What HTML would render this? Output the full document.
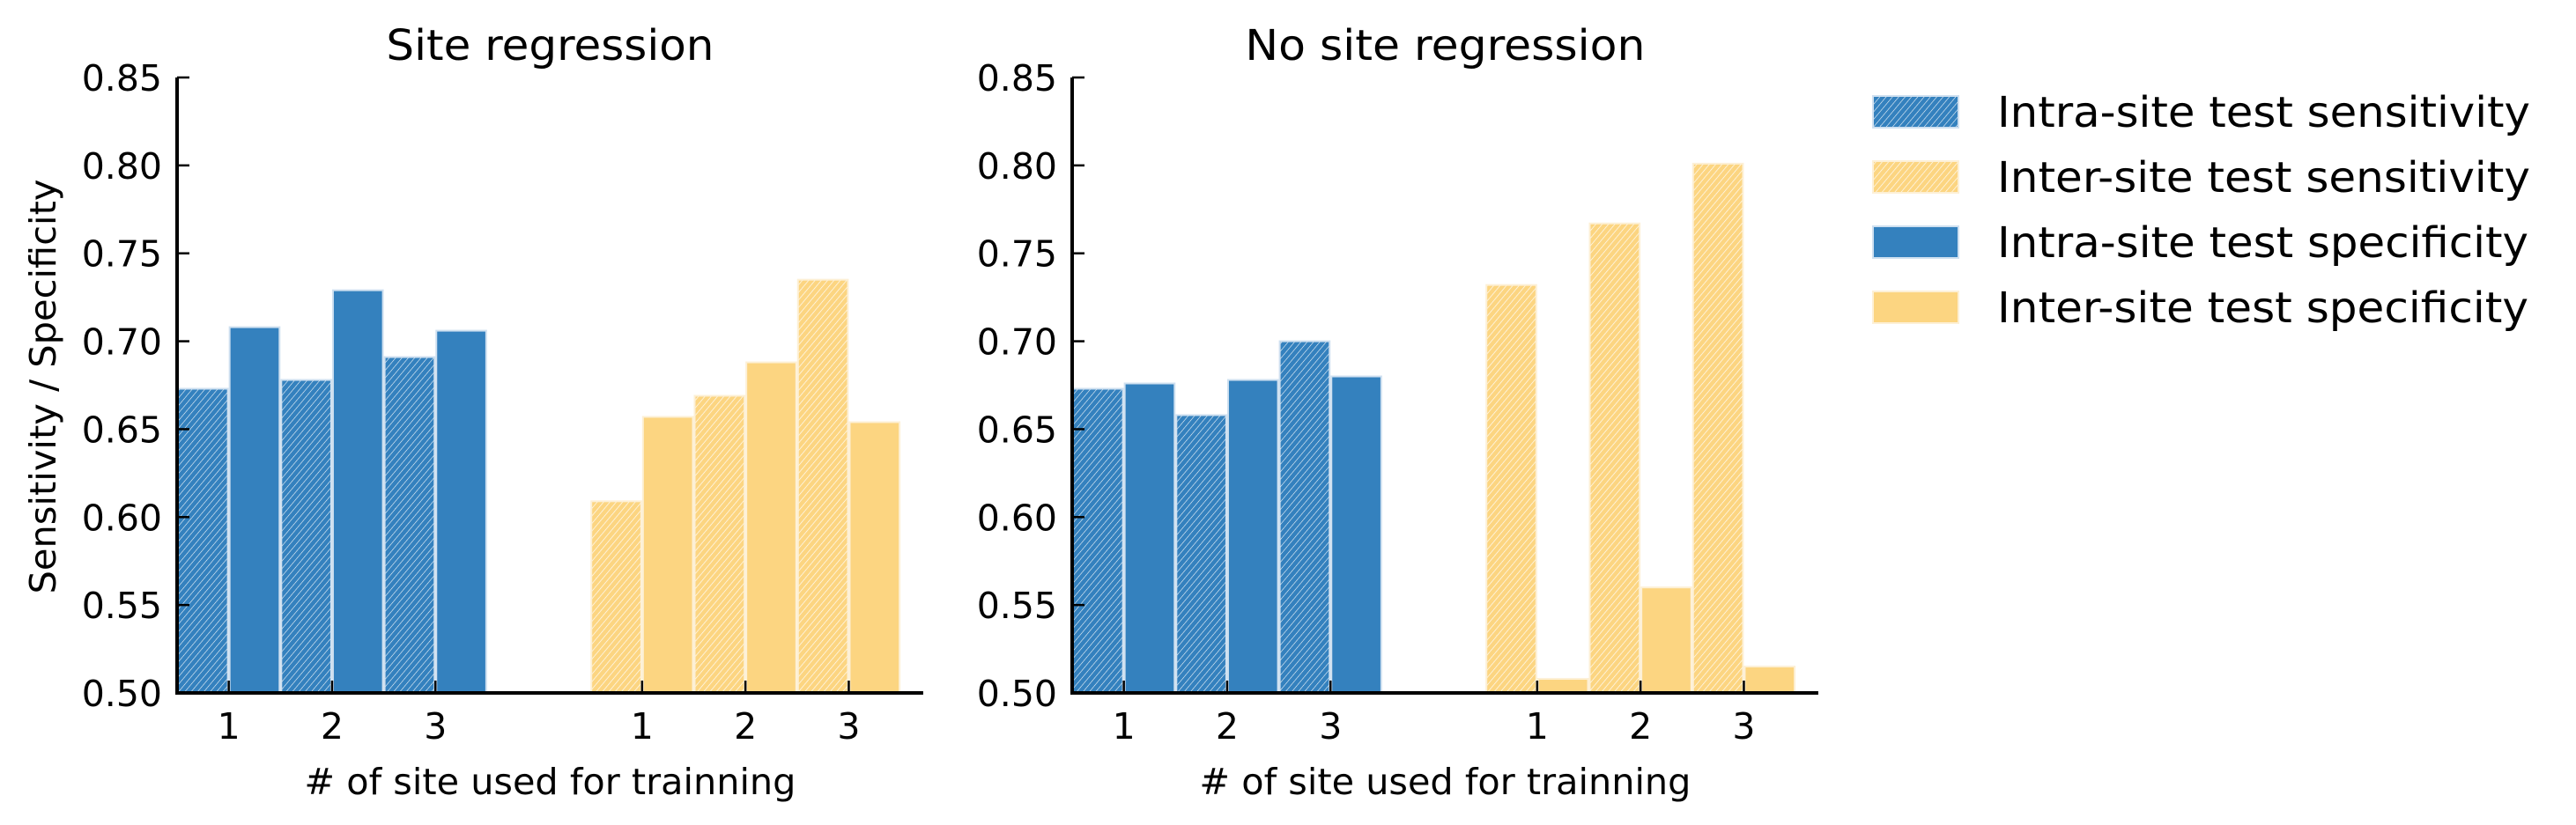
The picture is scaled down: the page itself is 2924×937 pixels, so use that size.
<!DOCTYPE html>
<html><head><meta charset="utf-8"><style>
html,body{margin:0;padding:0;background:#fff;}
svg{display:block;font-family:"DejaVu Sans","Liberation Sans",sans-serif;}
</style></head><body>
<svg id="chart" width="2924" height="937" viewBox="0 0 2924 937" xmlns="http://www.w3.org/2000/svg">
<defs>
<pattern id="hb" patternUnits="userSpaceOnUse" width="5.5" height="5.5" patternTransform="rotate(40)">
<rect width="5.5" height="5.5" fill="#3481be"/><line x1="0" y1="0" x2="0" y2="5.5" stroke="#fff" stroke-width="1.1"/></pattern>
<pattern id="hy" patternUnits="userSpaceOnUse" width="5.5" height="5.5" patternTransform="rotate(40)">
<rect width="5.5" height="5.5" fill="#fcd581"/><line x1="0" y1="0" x2="0" y2="5.5" stroke="#fff" stroke-width="1.3"/></pattern>
</defs>
<g id="p1"></g>
<g id="p2"></g>
<text x="49" y="439" font-size="41" text-anchor="middle" transform="rotate(-90 49 439)" dy="14" textLength="471" lengthAdjust="spacingAndGlyphs">Sensitivity / Specificity</text>
<g id="legend"></g>
</svg>
<script>
const categories = [1, 2, 3];
const yTicks = [0.50, 0.55, 0.60, 0.65, 0.70, 0.75, 0.80, 0.85];
const siteIntraSens = [0.673, 0.678, 0.691];
const siteIntraSpec = [0.708, 0.729, 0.706];
const siteInterSens = [0.609, 0.669, 0.735];
const siteInterSpec = [0.657, 0.688, 0.654];
const noSiteIntraSens = [0.673, 0.658, 0.700];
const noSiteIntraSpec = [0.676, 0.678, 0.680];
const noSiteInterSens = [0.732, 0.767, 0.801];
const noSiteInterSpec = [0.508, 0.560, 0.515];
const legendLabels = ["Intra-site test sensitivity","Inter-site test sensitivity","Intra-site test specificity","Inter-site test specificity"];

const NS="http://www.w3.org/2000/svg";
function mk(parent, tag, attrs){const e=document.createElementNS(NS,tag);for(const k in attrs)e.setAttribute(k,attrs[k]);parent.appendChild(e);return e;}
const Y0=787, Y1=88, YMIN=0.5, YMAX=0.85;
function yS(v){return Y0-(v-YMIN)/(YMAX-YMIN)*(Y0-Y1);}
const UNIT=117.3;
function drawPanel(g, left, title, titleLen, iSens, iSpec, eSens, eSpec){
  const xS = x => left + (x-0.5)*UNIT;
  const right = xS(7.72);
  const series=[[iSens,"url(#hb)","#cfe0f0",0,"intra-sens"],[iSpec,"#3481be","#cfe0f0",1,"intra-spec"],[eSens,"url(#hy)","#fdf0d6",4,"inter-sens"],[eSpec,"#fcd581","#fdf0d6",5,"inter-spec"]];
  series.forEach(s=>{
    s[0].forEach((v,i)=>{
      const base = categories[i] + (s[3]>=4 ? 4 : 0);
      const x0 = (s[3]%2===0) ? xS(base-0.5) : xS(base);
      const r=mk(g,"rect",{x:x0+1,y:yS(v),width:UNIT*0.5-2,height:Y0-yS(v),fill:s[1],stroke:s[2],"stroke-width":2});
      
      
    });
  });
  let a=mk(g,"line",{x1:left,y1:Y1,x2:left,y2:Y0+2,stroke:"#000","stroke-width":4});
  
  
  a=mk(g,"line",{x1:left-2,y1:Y0,x2:right,y2:Y0,stroke:"#000","stroke-width":4});
  
  
  yTicks.forEach(t=>{
    mk(g,"line",{x1:left,y1:yS(t),x2:left+14,y2:yS(t),stroke:"#000","stroke-width":2.5});
    const tx=mk(g,"text",{x:left-17,y:yS(t)+15,"font-size":41,"text-anchor":"end"});
    tx.textContent=t.toFixed(2);
    
    
  });
  [0,4].forEach(off=>categories.forEach(c=>{
    const x=xS(c+off);
    mk(g,"line",{x1:x,y1:Y0,x2:x,y2:Y0-14,stroke:"#000","stroke-width":2.5});
    const tx=mk(g,"text",{x:x,y:839,"font-size":41,"text-anchor":"middle"});
    tx.textContent=c;
    
    
  }));
  const mid=(left+right)/2;
  const tt=mk(g,"text",{x:mid,y:68,"font-size":48,"text-anchor":"middle",textLength:titleLen,lengthAdjust:"spacingAndGlyphs"});
  tt.textContent=title;
  
  
  const xl=mk(g,"text",{x:mid,y:902,"font-size":41,"text-anchor":"middle",textLength:558,lengthAdjust:"spacingAndGlyphs"});
  xl.textContent="# of site used for trainning";
  
  
}
drawPanel(document.getElementById("p1"),201,"Site regression",372,siteIntraSens,siteIntraSpec,siteInterSens,siteInterSpec);
drawPanel(document.getElementById("p2"),1217,"No site regression",454,noSiteIntraSens,noSiteIntraSpec,noSiteInterSens,noSiteInterSpec);
const lg=document.getElementById("legend");
const lf=[["url(#hb)","#cfe0f0"],["url(#hy)","#fdf0d6"],["#3481be","#cfe0f0"],["#fcd581","#fdf0d6"]];
const rowsY=[127,201,275,349];
legendLabels.forEach((l,i)=>{
  const r=mk(lg,"rect",{x:2126,y:rowsY[i]-18,width:97,height:36,fill:lf[i][0],stroke:lf[i][1],"stroke-width":2});
  
  
  const t=mk(lg,"text",{x:2267,y:rowsY[i]+17,"font-size":48,textLength:l.indexOf("sensitivity")>0?605:603,lengthAdjust:"spacingAndGlyphs"});
  t.textContent=l;
  
  
});
</script>
</body></html>
